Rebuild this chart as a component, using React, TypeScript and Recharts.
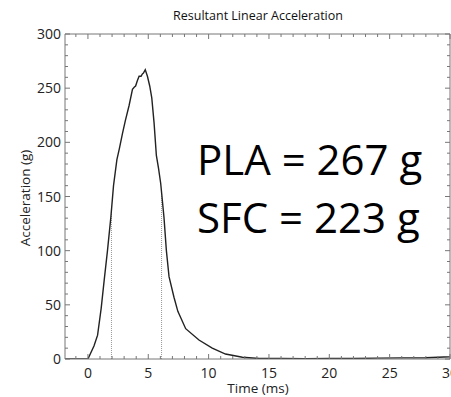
import { LineChart, Line, XAxis, YAxis, ReferenceLine } from 'recharts';

// resultant acceleration trace
const TIME_MS = [-1.9, 0, 0.5, 0.8, 1.1, 1.35, 1.62, 1.9, 2.12, 2.4, 2.6, 2.86, 3.1, 3.41, 3.69, 3.85, 3.95, 4.1, 4.24, 4.4, 4.5, 4.6, 4.75, 4.93, 5.12, 5.29, 5.48, 5.67, 5.85, 6.03, 6.3, 6.5, 6.72, 7.13, 7.45, 8.1, 9.2, 10.3, 11.4, 12.8, 14.2, 16, 18, 20, 22, 24, 26, 28, 29.5, 30];
const ACCEL_G = [0, 0, 12, 22, 47, 73, 100, 131, 160, 184, 194, 208, 220, 234, 249, 251, 252, 257, 261, 261, 263, 264, 267, 261, 252, 241, 218, 188, 176, 162, 131, 100, 76, 57, 44, 28, 17.5, 10, 4.6, 1.6, 0.4, 0.5, 0.3, 0.6, 0.4, 0.8, 1.0, 1.2, 1.8, 2];

// dotted markers: time and the height they reach
const MARK_T = [1.95, 6.1];
const MARK_G = [137, 152];

const X_TICKS = [-1, 0, 1, 2, 3, 4, 5, 6, 7, 8, 9, 10, 11, 12, 13, 14, 15, 16, 17, 18, 19, 20, 21, 22, 23, 24, 25, 26, 27, 28, 29, 30];
const X_LABELED = [0, 5, 10, 15, 20, 25, 30];
const Y_TICKS = [0, 10, 20, 30, 40, 50, 60, 70, 80, 90, 100, 110, 120, 130, 140, 150, 160, 170, 180, 190, 200, 210, 220, 230, 240, 250, 260, 270, 280, 290, 300];
const Y_LABELED = [0, 50, 100, 150, 200, 250, 300];

const X_DOMAIN = [-1.9, 30];
const Y_DOMAIN = [0, 300];

const FRAME = '#777';
const INK = '#222';
const FONT = '"Open Sans", sans-serif';

// tick marks point into the plot; only the major ones get a label
function makeTick(side: 'bottom' | 'top' | 'left' | 'right') {
  return (props: any) => {
    const { x, y, payload } = props;
    const v = payload.value;
    const major = side === 'bottom' || side === 'top' ? X_LABELED.includes(v) : Y_LABELED.includes(v);
    const len = major ? 5 : 3;
    let line;
    if (side === 'bottom') line = <line x1={x} x2={x} y1={y} y2={y - len} stroke={FRAME} />;
    else if (side === 'top') line = <line x1={x} x2={x} y1={y} y2={y + len} stroke={FRAME} />;
    else if (side === 'left') line = <line x1={x} x2={x + len} y1={y} y2={y} stroke={FRAME} />;
    else line = <line x1={x} x2={x - len} y1={y} y2={y} stroke={FRAME} />;
    return (
      <g>
        {line}
        {major && side === 'bottom' && (
          <text x={x} y={y + 19} textAnchor="middle" fontSize={14} fill={INK}>{v}</text>
        )}
        {major && side === 'left' && (
          <text x={x - 4} y={y + 5} textAnchor="end" fontSize={14} fill={INK}>{v}</text>
        )}
      </g>
    );
  };
}

export default function App() {
  const data = TIME_MS.map((t, i) => ({ t, g: ACCEL_G[i] }));

  return (
    <div style={{ position: 'absolute', left: 0, top: 0, width: 451, height: 397, background: '#fff', fontFamily: FONT }}>
      <LineChart width={451} height={397} data={data} margin={{ top: 33, right: 0, bottom: 0, left: 0 }}>
        <XAxis type="number" dataKey="t" domain={X_DOMAIN} allowDataOverflow ticks={X_TICKS} interval={0}
          height={38} tickSize={0} tickMargin={0} tickLine={false} stroke={FRAME} tick={makeTick('bottom')} />
        <XAxis xAxisId="top" orientation="top" type="number" dataKey="t" domain={X_DOMAIN} allowDataOverflow ticks={X_TICKS} interval={0}
          height={1} tickSize={0} tickMargin={0} tickLine={false} stroke={FRAME} tick={makeTick('top')} />
        <YAxis type="number" domain={Y_DOMAIN} allowDataOverflow ticks={Y_TICKS} interval={0}
          width={65} tickSize={0} tickMargin={0} tickLine={false} stroke={FRAME} tick={makeTick('left')} />
        <YAxis yAxisId="right" orientation="right" type="number" domain={Y_DOMAIN} allowDataOverflow ticks={Y_TICKS} interval={0}
          width={1} tickSize={0} tickMargin={0} tickLine={false} stroke={FRAME} tick={makeTick('right')} />

        {MARK_T.map((t, i) => (
          <ReferenceLine key={t} segment={[{ x: t, y: 0 }, { x: t, y: MARK_G[i] }]}
            stroke="#999" strokeDasharray="1 1" strokeWidth={1} />
        ))}

        <Line type="linear" dataKey="g" stroke={INK} strokeWidth={1.4} dot={false} isAnimationActive={false} />
      </LineChart>

      <svg width={451} height={397} style={{ position: 'absolute', left: 0, top: 0, pointerEvents: 'none', fontFamily: FONT }}>
        <text x={258} y={20} textAnchor="middle" fontSize={12.5} fill="#111">Resultant Linear Acceleration</text>
        <text x={258} y={393} textAnchor="middle" fontSize={13.5} fill={INK}>Time (ms)</text>
        <text x={30} y={198} textAnchor="middle" fontSize={13.5} fill={INK} transform="rotate(-90 30 198)">Acceleration (g)</text>
        <text x={197} y={175} fontSize={42} fill="#000">PLA = 267 g</text>
        <text x={197} y={233} fontSize={42} fill="#000">SFC = 223 g</text>
      </svg>
    </div>
  );
}
